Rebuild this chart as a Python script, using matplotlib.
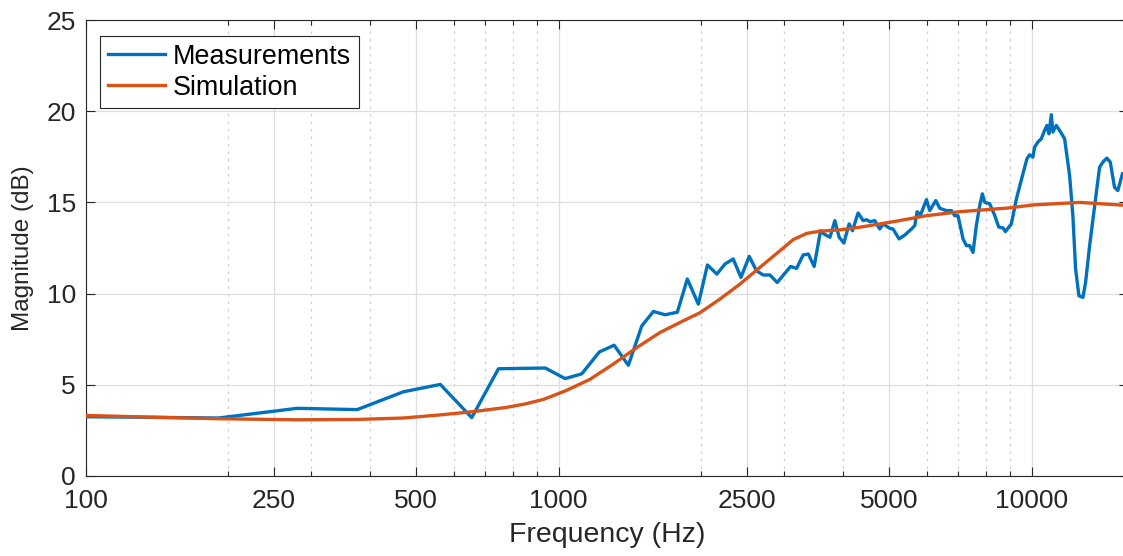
import matplotlib
matplotlib.use("Agg")
import matplotlib.pyplot as plt
from matplotlib.ticker import FixedLocator, NullFormatter

plt.rcParams['font.family'] = ['Liberation Sans', 'DejaVu Sans']

# Measured response (frequency in Hz, magnitude in dB)
meas_freq = [100, 191, 280, 375, 470, 562, 655, 746, 937, 1032, 1119, 1219, 1310,
             1404, 1499, 1586, 1679, 1782, 1871, 1974, 2063, 2160, 2247, 2339,
             2429, 2529, 2620, 2707, 2797, 2898, 3093, 3184, 3289, 3371, 3469,
             3579, 3638, 3746, 3837, 3918, 4009, 4113, 4180, 4296, 4404, 4477,
             4549, 4660, 4775, 4853, 5013, 5094, 5245, 5393, 5570, 5661, 5726,
             5821, 5993, 6090, 6271, 6394, 6603, 6768, 6877, 6989, 7161, 7279,
             7396, 7518, 7640, 7766, 7868, 7956, 8154, 8352, 8520, 8700, 8800,
             9060, 9285, 9586, 9775, 9903, 10062, 10146, 10311, 10484, 10653,
             10772, 10879, 11005, 11092, 11276, 11458, 11742, 12031, 12224,
             12387, 12590, 12838, 13003, 13262, 13650, 13921, 14146, 14423,
             14664, 14973, 15216, 15560]
meas_db = [3.25, 3.18, 3.71, 3.64, 4.62, 5.02, 3.2, 5.88, 5.92, 5.34, 5.6, 6.8, 7.17,
           6.07, 8.23, 9.02, 8.84, 8.98, 10.8, 9.42, 11.57, 11.07, 11.62, 11.9,
           10.89, 12.04, 11.25, 11.02, 11.02, 10.61, 11.49, 11.38, 12.12, 12.17, 11.49,
           13.45, 13.27, 13.09, 14.0, 13.09, 12.77, 13.82, 13.45, 14.42, 14.0, 14.05,
           13.94, 14.0, 13.54, 13.82, 13.58, 13.54, 13.0, 13.21, 13.54, 13.73, 14.49,
           14.31, 15.15, 14.55, 15.1, 14.68, 14.55, 14.55, 14.27, 14.27, 13.0, 12.63,
           12.63, 12.26, 13.73, 14.82, 15.47, 15.01, 14.92, 14.3, 13.65, 13.6, 13.4,
           13.82, 15.19, 16.57, 17.39, 17.61, 17.48, 18.03, 18.31, 18.49, 18.95,
           19.22, 18.76, 19.81, 18.86, 19.22, 18.95, 18.49, 16.47, 14.27,
           11.35, 9.88, 9.79, 10.61, 12.63, 15.19, 16.93, 17.21, 17.43,
           17.21, 15.83, 15.65, 16.57]

# Simulated response
sim_freq = [100, 140, 191, 280, 375, 470, 562, 655, 771, 850, 929, 1032, 1165, 1304,
            1463, 1639, 1835, 1990, 2193, 2417, 2665, 2937, 3133, 3345, 3567, 3951,
            4332, 4775, 5094, 5993, 7047, 8984, 10062, 12630, 15560]
sim_db = [3.32, 3.22, 3.14, 3.08, 3.1, 3.18, 3.35, 3.52, 3.75, 3.95, 4.2, 4.66, 5.3,
          6.13, 7.04, 7.87, 8.51, 8.95, 9.7, 10.52, 11.44, 12.35, 12.96, 13.3, 13.42,
          13.5, 13.64, 13.82, 13.94, 14.27, 14.49, 14.7, 14.86, 15.0, 14.85]

xtick_vals = [100, 250, 500, 1000, 2500, 5000, 10000]
xtick_labels = ['100', '250', '500', '1000', '2500', '5000', '10000']
xminor_vals = [200, 300, 400, 600, 700, 800, 900, 2000, 3000, 4000,
               6000, 7000, 8000, 9000]
ytick_vals = [0, 5, 10, 15, 20, 25]

BLUE = '#0072BD'
ORANGE = '#D95319'
AXC = '#262626'

fig = plt.figure(figsize=(11.23, 5.56), dpi=100)
ax = fig.add_axes([0.0763, 0.1439, 0.9283, 0.8201])

ax.plot(meas_freq, meas_db, color=BLUE, lw=2.4, label='Measurements', zorder=3)
ax.plot(sim_freq, sim_db, color=ORANGE, lw=2.4, label='Simulation', zorder=4)

ax.set_xscale('log')
ax.set_xlim(100, 16000)
ax.set_ylim(0, 25)
ax.xaxis.set_major_locator(FixedLocator(xtick_vals))
ax.set_xticklabels(xtick_labels)
ax.xaxis.set_minor_locator(FixedLocator(xminor_vals))
ax.xaxis.set_minor_formatter(NullFormatter())
ax.set_yticks(ytick_vals)

ax.grid(True, which='major', color='#dedede', lw=0.9, ls='-', zorder=0)
ax.grid(True, which='minor', axis='x', color='#cfcfcf', lw=0.9,
        ls=(0, (2, 4)), zorder=0)
ax.set_axisbelow(True)

ax.tick_params(which='both', direction='in', top=True, right=True,
               colors=AXC, width=0.8)
ax.tick_params(which='major', length=6.5, labelsize=19)
ax.tick_params(axis='x', which='major', pad=9.5)
ax.tick_params(axis='y', which='major', pad=7)
ax.tick_params(which='minor', length=3.5)
for s in ax.spines.values():
    s.set_color(AXC)
    s.set_linewidth(0.8)

ax.set_xlabel('Frequency (Hz)', fontsize=20.5, color=AXC, labelpad=6.5)
ax.set_ylabel('Magnitude (dB)', fontsize=17.5, color=AXC, labelpad=9)

leg = ax.legend(loc='upper left', bbox_to_anchor=(0.0137, 0.965),
                borderaxespad=0, fontsize=19.4, fancybox=False, framealpha=1,
                edgecolor=AXC, handlelength=2.15, handletextpad=0.28,
                labelspacing=0.2, borderpad=0.28)
leg.get_frame().set_linewidth(0.8)

fig.savefig('out.png', dpi=100)
